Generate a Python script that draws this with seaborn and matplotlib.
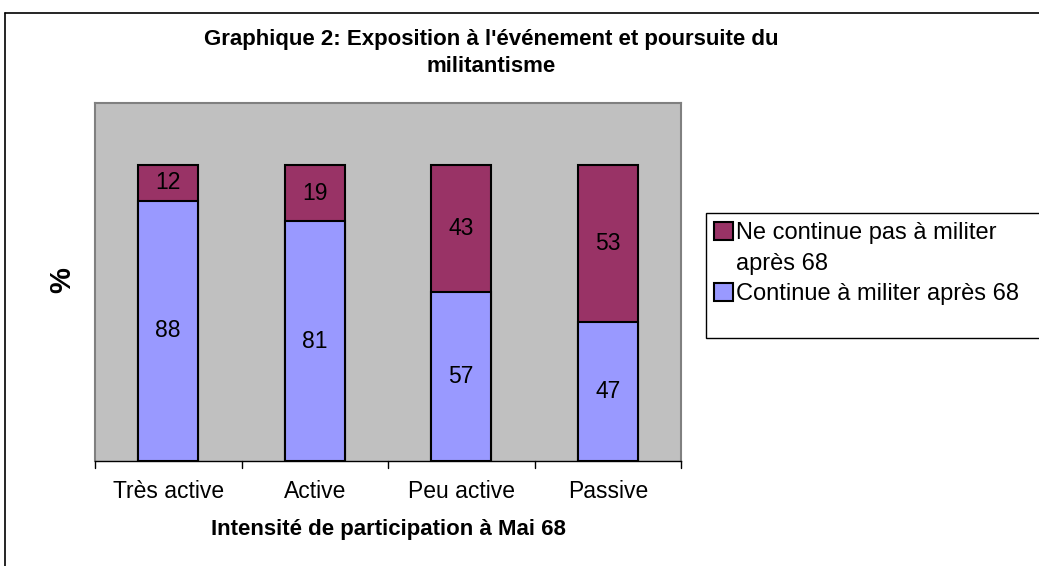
import matplotlib
matplotlib.use("Agg")
import matplotlib.pyplot as plt
import seaborn as sns
import pandas as pd
from matplotlib.patches import Rectangle, Patch
from matplotlib.lines import Line2D

categories = ["Très active", "Active", "Peu active", "Passive"]
continue_vals = [88, 81, 57, 47]
stop_vals = [12, 19, 43, 53]
series_names = ["Ne continue pas à militer\naprès 68", "Continue à militer après 68"]
title = "Graphique 2: Exposition à l'événement et poursuite du\nmilitantisme"
xlabel = "Intensité de participation à Mai 68"
ylabel = "%"

sns.set_theme(style="white")
plt.rcParams['font.family'] = ['Liberation Sans', 'DejaVu Sans']
plt.rcParams['text.color'] = 'black'
plt.rcParams['xtick.color'] = 'black'
plt.rcParams['axes.labelcolor'] = 'black'

W, H = 1039, 566
fig = plt.figure(figsize=(W / 100, H / 100), dpi=100)
ax = fig.add_axes([95 / W, 1 - 461 / H, (681 - 95) / W, (461 - 103) / H])
ax.set_facecolor("#C0C0C0")

df = pd.DataFrame({
    "cat": categories,
    "total": [c + s for c, s in zip(continue_vals, stop_vals)],
    "cont": continue_vals,
    "stop": stop_vals,
})

purple = "#993366"
blue = "#9999FF"
sns.barplot(data=df, x="cat", y="total", color=purple, edgecolor="black",
            linewidth=1.5, width=0.41, saturation=1, ax=ax, order=categories)
sns.barplot(data=df, x="cat", y="cont", color=blue, edgecolor="black",
            linewidth=1.5, width=0.41, saturation=1, ax=ax, order=categories)

for i, (c, s) in enumerate(zip(continue_vals, stop_vals)):
    ax.text(i, c / 2, str(c), ha="center", va="center", fontsize=16.5, color="black")
    ax.text(i, c + s / 2, str(s), ha="center", va="center", fontsize=16.5, color="black")

ax.set_xlim(-0.5, 3.5)
ax.set_ylim(0, 121)
ax.set_yticks([])
ax.set_xticks([0, 1, 2, 3])
ax.set_xticklabels(categories, fontsize=16.5, color="black")
ax.tick_params(axis="x", length=0, pad=14)
for xb in [-0.5, 0.5, 1.5, 2.5, 3.5]:
    ax.plot([xb, xb], [0, -2.4], color="black", lw=1, clip_on=False)

for side in ["top", "right", "left"]:
    ax.spines[side].set_color("#808080")
    ax.spines[side].set_linewidth(1.5)
ax.spines["bottom"].set_color("black")
ax.spines["bottom"].set_linewidth(1)

ax.set_xlabel(xlabel, fontsize=16, fontweight="bold", labelpad=11, color="black")
ax.set_ylabel("")
fig.text(62 / W, 1 - 280 / H, ylabel, rotation=90, fontsize=21, fontweight="bold",
         ha="center", va="center", color="black")

fig.text(491 / W, 1 - 53 / H, title, ha="center", va="center", fontsize=16,
         fontweight="bold", linespacing=1.4, color="black")

# figure border (top and left visible)
fig.add_artist(Line2D([5 / W, 1.01], [1 - 13 / H, 1 - 13 / H], color="black", lw=1.2))
fig.add_artist(Line2D([5 / W, 5 / W], [-0.01, 1 - 13 / H], color="black", lw=1.2))

# legend box
fig.add_artist(Rectangle((706 / W, 1 - 338 / H), 1.1 - 706 / W, 125 / H,
                         transform=fig.transFigure, facecolor="white",
                         edgecolor="black", lw=1))
first_line, second_line = series_names[0].split("\n")
handles = [Patch(facecolor=purple, edgecolor="black", lw=1.5),
           Patch(facecolor="none", edgecolor="none"),
           Patch(facecolor=blue, edgecolor="black", lw=1.5)]
labels = [first_line, second_line, series_names[1]]
leg = fig.legend(handles, labels, loc="upper left",
                 bbox_to_anchor=(714 / W, 1 - 222 / H), frameon=False, fontsize=17,
                 handlelength=0.8, handleheight=0.8, handletextpad=0.15,
                 labelspacing=0.35, borderaxespad=0, borderpad=0)
for t in leg.get_texts():
    t.set_color("black")

fig.savefig("out.png", dpi=100)
